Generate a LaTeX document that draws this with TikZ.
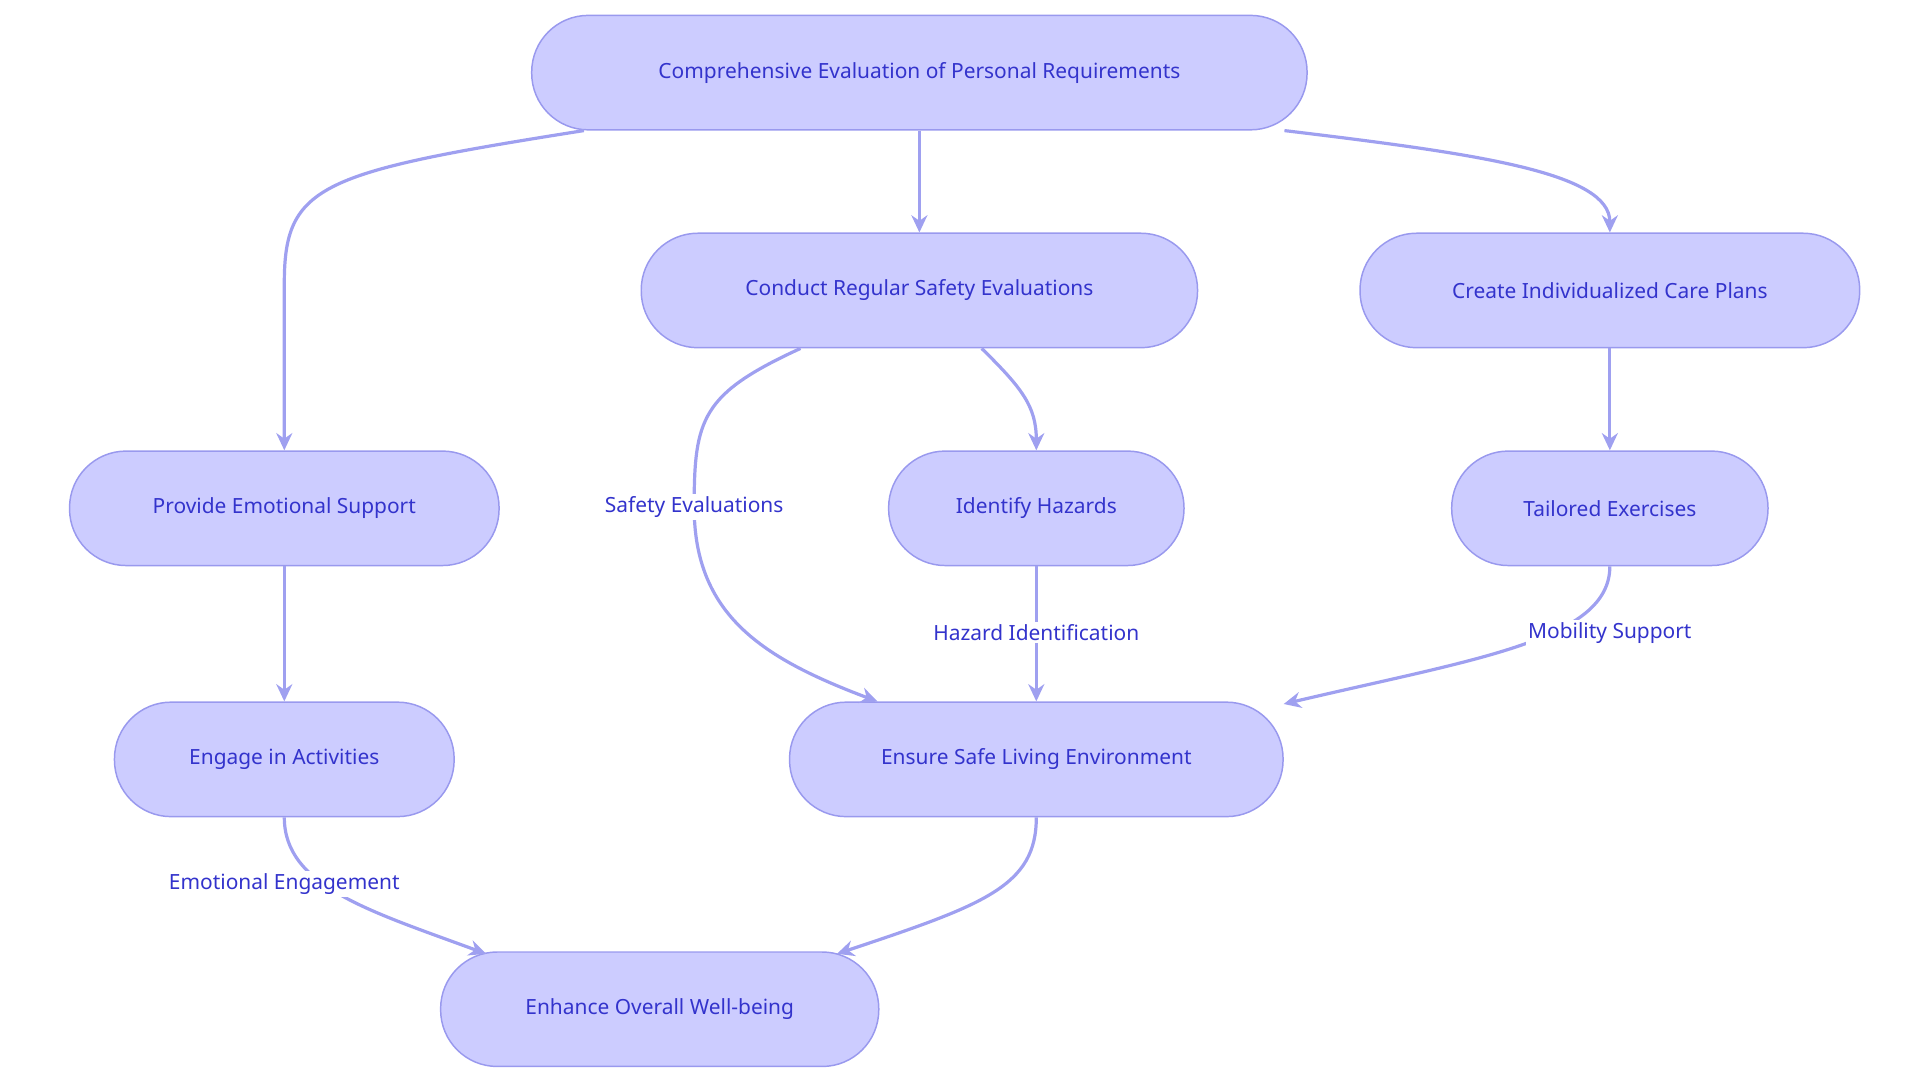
\documentclass[tikz,border=0pt]{standalone}
\usepackage{fontspec}
\setmainfont{Noto Sans}
\usetikzlibrary{arrows.meta}
\definecolor{nfill}{HTML}{CCCCFF}
\definecolor{nborder}{HTML}{9999EE}
\definecolor{ntext}{HTML}{3333CC}
\definecolor{arr}{HTML}{9FA0F0}
\begin{document}
\begin{tikzpicture}[x=1pt,y=-1pt,
  box/.style={draw=nborder,fill=nfill,line width=1.2pt,rounded corners=46pt,minimum height=93pt,text=ntext,font=\fontsize{17}{20}\selectfont,inner sep=0pt},
  ed/.style={draw=arr,line width=2.6pt,-{Stealth[length=14pt,width=13pt]}},
  lab/.style={fill=white,text=ntext,font=\fontsize{17}{20}\selectfont,inner sep=2pt}]
\useasboundingbox (0,0) rectangle (1560,880);
\node[box,minimum width=630pt] (A) at (747,59) {Comprehensive Evaluation of Personal Requirements};
\node[box,minimum width=452pt] (B) at (747,236) {Conduct Regular Safety Evaluations};
\node[box,minimum width=406pt] (C) at (1308,236) {Create Individualized Care Plans};
\node[box,minimum width=349pt] (D) at (231,413) {Provide Emotional Support};
\node[box,minimum width=240pt] (E) at (842,413) {Identify Hazards};
\node[box,minimum width=257pt] (F) at (1308,413) {Tailored Exercises};
\node[box,minimum width=276pt] (G) at (231,617) {Engage in Activities};
\node[box,minimum width=401pt] (H) at (842,617) {Ensure Safe Living Environment};
\node[box,minimum width=356pt] (I) at (536,820) {Enhance Overall Well-being};
\draw[ed] (A.south west)++(43,0) .. controls (260,140) and (231,150) .. (231,230) -- (D.north);
\draw[ed] (A) -- (B);
\draw[ed] (A.south east)++(-19,0) .. controls (1200,125) and (1308,140) .. (C.north);
\draw[ed] (B.south west)++(130,0) .. controls (570,320) and (564,340) .. (564,412) .. controls (564,500) and (620,535) .. (713,570);
\node[lab] (l1) at (564,412) {Safety Evaluations};
\draw[ed] (B.south east)++(-176,0) .. controls (830,315) and (842,330) .. (E.north);
\draw[ed] (C) -- (F);
\draw[ed] (D) -- (G);
\draw[ed] (E) -- (H);
\node[lab] (l2) at (842,514) {Hazard Identification};
\draw[ed] (F.south) .. controls (1308,520) and (1200,535) .. (1043,572);
\node[lab] (l3) at (1308,514) {Mobility Support};
\draw[ed] (G.south) .. controls (231,720) and (300,740) .. (395,775);
\node[lab] (l4) at (231,718) {Emotional Engagement};
\draw[ed] (H.south) .. controls (842,720) and (800,735) .. (680,775);
\end{tikzpicture}
\end{document}
